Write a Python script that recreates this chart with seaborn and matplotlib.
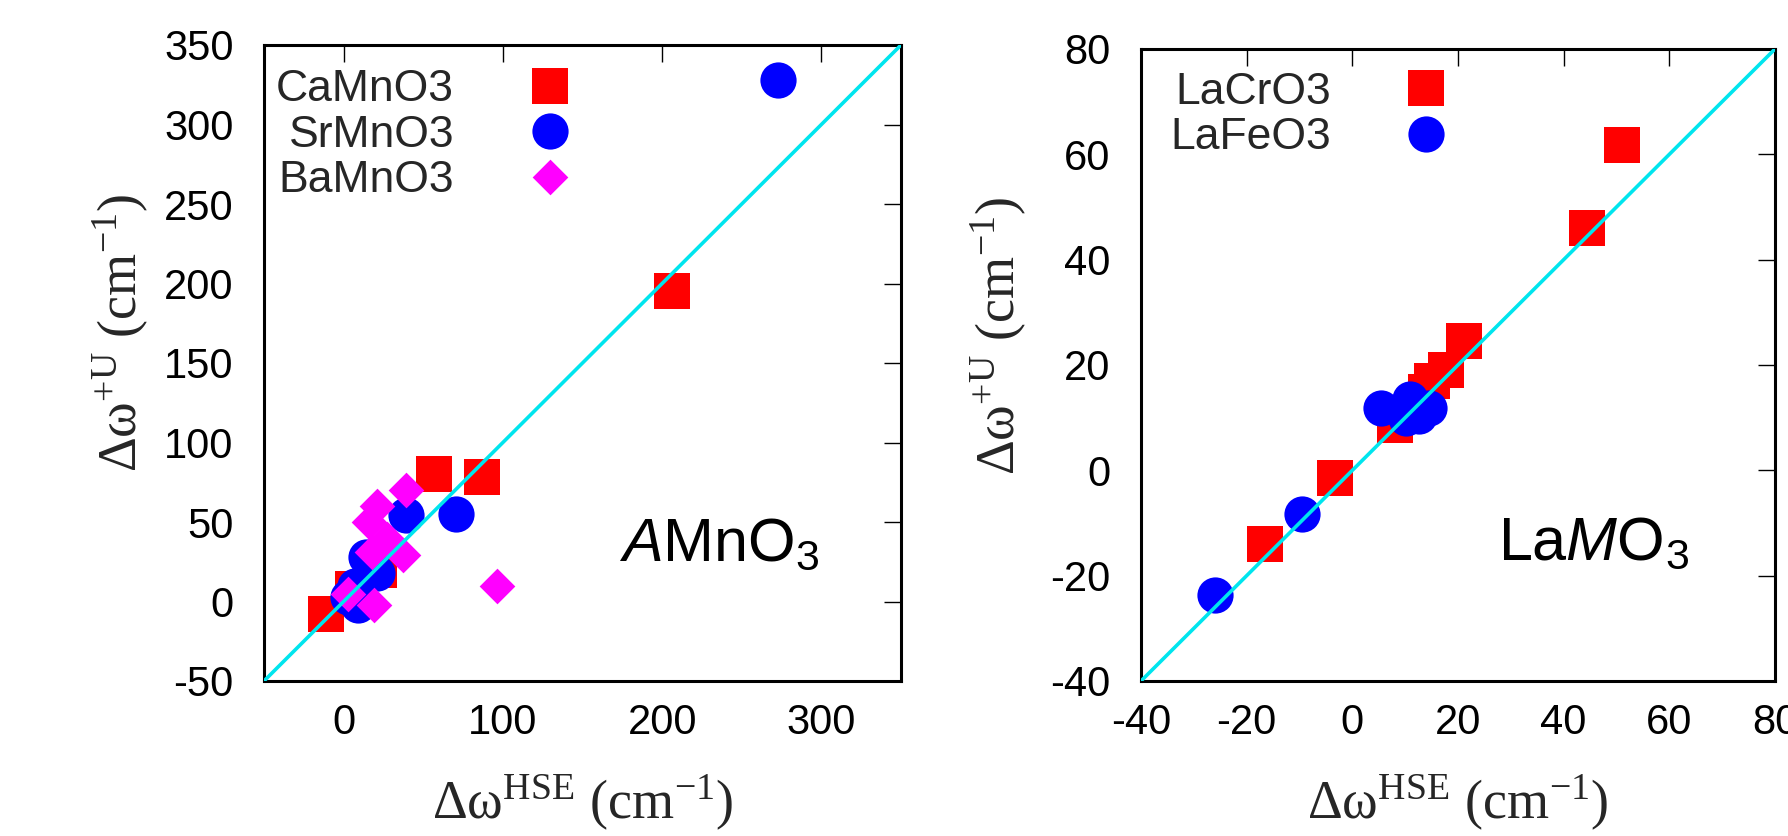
import matplotlib
matplotlib.use("Agg")
import matplotlib.pyplot as plt
import seaborn as sns
import numpy as np
import pandas as pd

sns.set_theme(style="white")
plt.rcParams['font.family'] = ['Liberation Sans', 'DejaVu Sans']
plt.rcParams['mathtext.fontset'] = 'custom'
plt.rcParams['mathtext.rm'] = 'Liberation Sans'
plt.rcParams['mathtext.it'] = 'Liberation Sans:italic'
plt.rcParams['mathtext.bf'] = 'Liberation Sans:bold'
plt.rcParams['axes.unicode_minus'] = False

# ---------------- data: left panel (AMnO3) ----------------
ca_x = [-11, 6, 22, 57, 87, 206]
ca_y = [-8, 8, 20, 80, 78, 195]
sr_x = [273, 39, 70.5, 14, 21, 7, 3, 9]
sr_y = [328, 54.5, 55, 28, 18, 10, 3, -2]
ba_x = [39, 21, 16, 27, 37.5, 18, 96, 3, 19]
ba_y = [70, 60, 50, 39, 29.5, 31, 10, 5, -2.5]
left_names = ["CaMnO3", "SrMnO3", "BaMnO3"]
left_lim = [-50, 350]
left_xticks = [0, 100, 200, 300]
left_yticks = [-50, 0, 50, 100, 150, 200, 250, 300, 350]

# ---------------- data: right panel (LaMO3) ----------------
cr_x = [-16.5, -3.2, 8.1, 14, 15.1, 17.7, 21.2, 44.5, 51]
cr_y = [-13.9, -1.5, 8.7, 14.8, 17, 19.1, 24.6, 46, 61.7]
fe_x = [-26, -9.6, 5.4, 10.9, 10.2, 12.7, 14.5]
fe_y = [-23.7, -8.2, 11.9, 13.5, 9.9, 10.3, 11.9]
right_names = ["LaCrO3", "LaFeO3"]
right_lim = [-40, 80]
right_ticks = [-40, -20, 0, 20, 40, 60, 80]

xlabel = r'Δω$^{\mathregular{HSE}}$ (cm$^{\mathregular{-1}}$)'
ylabel = r'Δω$^{\mathregular{+U}}$ (cm$^{\mathregular{-1}}$)'
SERIF = ['Liberation Serif', 'DejaVu Serif']

W, H = 1788, 836
fig = plt.figure(figsize=(W / 100, H / 100), dpi=100)
ax1 = fig.add_axes([264 / W, 1 - 681 / H, 637 / W, 636 / H])
ax2 = fig.add_axes([1141 / W, 1 - 681 / H, 634 / W, 632 / H])

RED, BLUE, MAG, CYAN = "#ff0000", "#0000ff", "#ff00ff", "#00e5ee"
SQ, CI, DI = 680, 680, 330


def style_axes(ax, lim, xticks, yticks):
    ax.set_xlim(lim)
    ax.set_ylim(lim)
    ax.set_xticks(xticks)
    ax.set_yticks(yticks)
    ax.plot(lim, lim, color=CYAN, lw=2.6, zorder=5)
    for s in ax.spines.values():
        s.set_visible(True)
        s.set_color("black")
        s.set_linewidth(2.2)
    ax.tick_params(direction="in", length=12, width=1.0, top=True, right=True,
                   labelsize=30, colors="black")
    ax.tick_params(axis="x", pad=16)
    ax.tick_params(axis="y", pad=22)
    ax.set_xlabel(xlabel, fontsize=39, family=SERIF, math_fontfamily="dejavuserif")
    ax.set_ylabel(ylabel, fontsize=39, family=SERIF, math_fontfamily="dejavuserif")
    ax.xaxis.label.set_va("baseline")
    ax.yaxis.label.set_va("baseline")
    ax.xaxis.set_label_coords(0.5, -0.218)
    ax.yaxis.set_label_coords(-0.199, 0.547)


# left panel
sns.scatterplot(x=ca_x, y=ca_y, marker="s", s=SQ, color=RED, linewidth=0,
                label=left_names[0], ax=ax1, zorder=2, legend=False)
sns.scatterplot(x=sr_x, y=sr_y, marker="o", s=CI, color=BLUE, linewidth=0,
                label=left_names[1], ax=ax1, zorder=3, legend=False)
sns.scatterplot(x=ba_x, y=ba_y, marker="D", s=DI, color=MAG, linewidth=0,
                label=left_names[2], ax=ax1, zorder=4, legend=False)
style_axes(ax1, left_lim, left_xticks, left_yticks)
ax1.legend(ax1.collections[:3], left_names, loc="upper left",
           bbox_to_anchor=(0.019, 0.962), frameon=False, markerfirst=False,
           fontsize=32, borderpad=0, borderaxespad=0, labelspacing=0.1,
           handletextpad=1.0, handlelength=2.3, scatteryoffsets=[0.5])
ax1.text(173, 26, r'$\mathit{A}\mathrm{MnO}_3$', fontsize=44, ha="left",
         va="baseline", color="black")

# right panel
sns.scatterplot(x=cr_x, y=cr_y, marker="s", s=SQ, color=RED, linewidth=0,
                label=right_names[0], ax=ax2, zorder=2, legend=False)
sns.scatterplot(x=fe_x, y=fe_y, marker="o", s=CI, color=BLUE, linewidth=0,
                label=right_names[1], ax=ax2, zorder=3, legend=False)
style_axes(ax2, right_lim, right_ticks, right_ticks)
ax2.legend(ax2.collections[:2], right_names, loc="upper left",
           bbox_to_anchor=(0.046, 0.964), frameon=False, markerfirst=False,
           fontsize=32, borderpad=0, borderaxespad=0, labelspacing=0.1,
           handletextpad=1.0, handlelength=2.3, scatteryoffsets=[0.5])
ax2.text(27.6, -16.9, r'$\mathrm{La}\mathit{M}\mathrm{O}_3$', fontsize=44,
         ha="left", va="baseline", color="black")

fig.savefig("out.png", dpi=100)
